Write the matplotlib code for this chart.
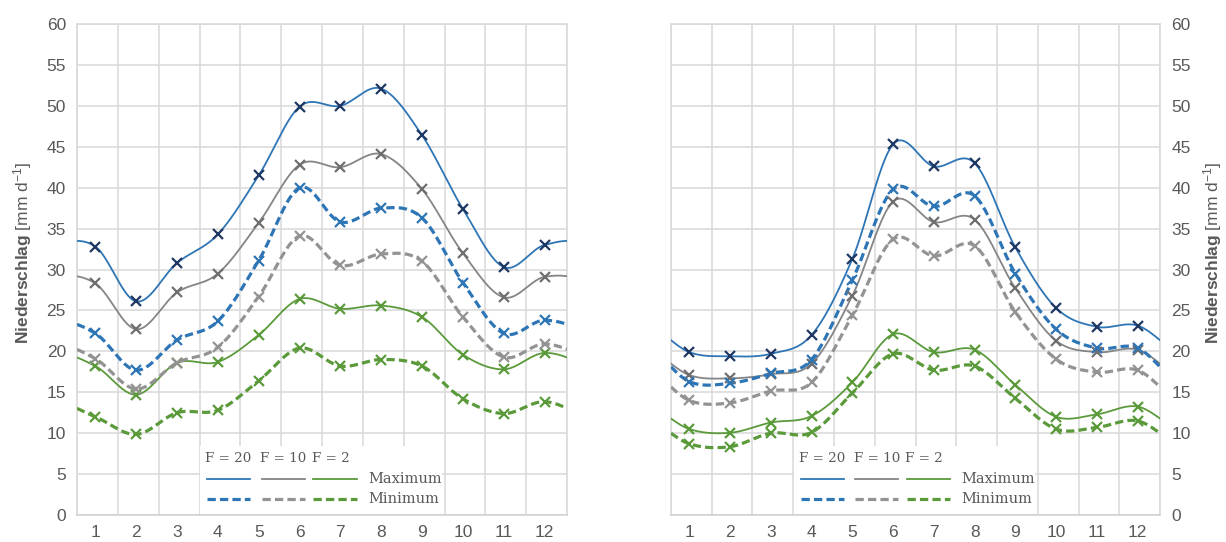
import numpy as np
import matplotlib
matplotlib.use("Agg")
import matplotlib.pyplot as plt
from matplotlib.patches import Rectangle
from matplotlib.lines import Line2D

plt.rcParams["font.family"] = ["Liberation Sans", "DejaVu Sans"]
plt.rcParams["mathtext.fontset"] = "custom"
plt.rcParams["mathtext.rm"] = "Liberation Sans"
plt.rcParams["mathtext.bf"] = "Liberation Sans:bold"
plt.rcParams["mathtext.it"] = "Liberation Sans:italic"

months = np.arange(1, 13)
y_ticks = np.arange(0, 61, 5)

# left panel (values in mm/d)
left_f20_max = [32.8, 26.1, 30.8, 34.3, 41.5, 49.9, 50.0, 52.1, 46.4, 37.4, 30.3, 33.0]
left_f10_max = [28.3, 22.7, 27.2, 29.5, 35.7, 42.8, 42.5, 44.1, 39.8, 32.0, 26.6, 29.1]
left_f2_max = [18.2, 14.7, 18.6, 18.7, 22.0, 26.4, 25.2, 25.6, 24.2, 19.6, 17.8, 19.8]
left_f20_min = [22.2, 17.7, 21.4, 23.7, 31.1, 40.0, 35.8, 37.5, 36.3, 28.4, 22.2, 23.8]
left_f10_min = [19.1, 15.4, 18.6, 20.5, 26.7, 34.1, 30.5, 31.9, 31.0, 24.2, 19.3, 20.9]
left_f2_min = [12.0, 9.85, 12.5, 12.8, 16.4, 20.4, 18.2, 19.0, 18.2, 14.2, 12.4, 13.85]

# right panel
right_f20_max = [19.9, 19.4, 19.7, 22.0, 31.3, 45.3, 42.6, 43.0, 32.7, 25.3, 23.0, 23.15]
right_f10_max = [17.1, 16.7, 17.2, 18.5, 26.8, 38.3, 35.8, 36.1, 27.7, 21.3, 19.9, 20.2]
right_f2_max = [10.5, 10.05, 11.3, 12.1, 16.2, 22.1, 19.9, 20.2, 15.9, 12.0, 12.3, 13.25]
right_f20_min = [16.3, 16.1, 17.3, 19.0, 28.7, 39.8, 37.7, 39.0, 29.5, 22.7, 20.4, 20.4]
right_f10_min = [14.0, 13.7, 15.15, 16.2, 24.4, 33.7, 31.65, 32.9, 24.8, 19.05, 17.45, 17.7]
right_f2_min = [8.7, 8.35, 10.0, 10.1, 14.9, 19.7, 17.7, 18.2, 14.25, 10.5, 10.7, 11.5]

legend_cols = ["F = 20", "F = 10", "F = 2"]
legend_rows = ["Maximum", "Minimum"]

BLUE = "#2e75b6"
BLUE_DARK = "#203864"
GRAY = "#858585"
GRAY_DASH = "#939393"
GRAY_MK = "#6f6f6f"
GREEN = "#5b9a3b"
GRID = "#d9d9d9"
TXT = "#595959"

X0, X1 = 0.55, 12.55
DASH = (2.6, 1.3)


# excel-like smoothed line, year wraps around (Dec before Jan, Jan after Dec)
def smooth(values):
    v = np.asarray(values, float)
    ext = np.concatenate([v[-2:], v, v[:2]])
    xs = np.linspace(X0, X1, 800)
    ys = np.empty_like(xs)
    for k, x in enumerate(xs):
        i = min(int(np.floor(x)), 12)
        idx = i + 1
        p0, p1, p2, p3 = ext[idx - 1], ext[idx], ext[idx + 1], ext[idx + 2]
        t = x - i
        m1 = (p2 - p0) / 2
        m2 = (p3 - p1) / 2
        ys[k] = ((2*t**3 - 3*t**2 + 1)*p1 + (t**3 - 2*t**2 + t)*m1
                 + (-2*t**3 + 3*t**2)*p2 + (t**3 - t**2)*m2)
    return xs, ys


def draw_series(ax, values, color, mcolor, dashed):
    xs, ys = smooth(values)
    if dashed:
        ax.plot(xs, ys, color=color, lw=2.3, dashes=DASH, zorder=3)
    else:
        ax.plot(xs, ys, color=color, lw=1.3, zorder=3)
    ax.plot(months, values, ls="none", marker="x", ms=6.5, mew=1.6, color=mcolor, zorder=4)


def draw_legend(ax):
    ax.add_patch(Rectangle((0.251, 0.002), 0.494, 0.138, transform=ax.transAxes,
                           facecolor="white", edgecolor="none", zorder=1))
    colors = [BLUE, GRAY, GREEN]
    dcolors = [BLUE, GRAY_DASH, GREEN]
    xs = [(0.265, 0.353), (0.377, 0.465), (0.482, 0.571)]
    for (a, b), c, dc, lab in zip(xs, colors, dcolors, legend_cols):
        ax.text(a - 0.003, 0.116, lab, transform=ax.transAxes, family="DejaVu Serif",
                fontsize=9.7, color=TXT, va="center", ha="left", zorder=5)
        ax.add_artist(Line2D([a, b], [0.073, 0.073], transform=ax.transAxes,
                             color=c, lw=1.3, zorder=5))
        ax.add_artist(Line2D([a, b], [0.033, 0.033], transform=ax.transAxes,
                             color=dc, lw=2.3, dashes=DASH, zorder=5))
    for y, lab in zip([0.073, 0.033], legend_rows):
        ax.text(0.594, y, lab, transform=ax.transAxes, family="DejaVu Serif",
                fontsize=10.5, color=TXT, va="center", ha="left", zorder=5)


def setup_axes(ax, right=False):
    ax.set_xlim(X0, X1)
    ax.set_ylim(0, 60)
    ax.set_xticks(months)
    ax.set_xticks(np.arange(X0, X1 + 0.01, 1), minor=True)
    ax.set_yticks(y_ticks)
    ax.grid(True, which="minor", axis="x", color=GRID, lw=1.1)
    ax.grid(True, which="major", axis="y", color=GRID, lw=1.1)
    ax.set_axisbelow(True)
    for s in ax.spines.values():
        s.set_color(GRID)
        s.set_linewidth(1.1)
    ax.spines["bottom"].set_color("#cfcfcf")
    ax.tick_params(which="both", length=0, labelsize=12.5, labelcolor=TXT)
    ax.tick_params(axis="x", pad=7)
    ax.tick_params(axis="y", pad=8)
    label = r"$\mathbf{Niederschlag}$ [mm d$^{-1}$]"
    if right:
        ax.yaxis.tick_right()
        ax.yaxis.set_label_position("right")
        ax.set_ylabel(label, fontsize=12.5, color=TXT, rotation=90)
        ax.yaxis.set_label_coords(1.084, 0.534)
    else:
        ax.set_ylabel(label, fontsize=12.5, color=TXT)
        ax.yaxis.set_label_coords(-0.087, 0.534)


fig = plt.figure(figsize=(12.26, 5.42), dpi=100)
ax1 = fig.add_axes([0.0628, 0.0498, 0.3997, 0.9059])
ax2 = fig.add_axes([0.5473, 0.0498, 0.3989, 0.9059])

panels = [
    (ax1, False, [left_f20_max, left_f10_max, left_f2_max],
     [left_f20_min, left_f10_min, left_f2_min]),
    (ax2, True, [right_f20_max, right_f10_max, right_f2_max],
     [right_f20_min, right_f10_min, right_f2_min]),
]

for ax, right, maxes, mins in panels:
    setup_axes(ax, right)
    draw_series(ax, maxes[0], BLUE, BLUE_DARK, False)
    draw_series(ax, maxes[1], GRAY, GRAY_MK, False)
    draw_series(ax, maxes[2], GREEN, GREEN, False)
    draw_series(ax, mins[0], BLUE, BLUE, True)
    draw_series(ax, mins[1], GRAY_DASH, GRAY_DASH, True)
    draw_series(ax, mins[2], GREEN, GREEN, True)
    draw_legend(ax)

fig.savefig("out.png", dpi=100)
